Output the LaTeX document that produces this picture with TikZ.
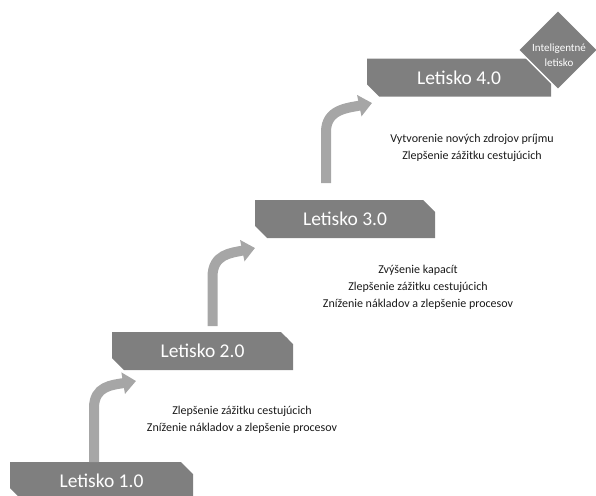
\documentclass[tikz,border=0pt]{standalone}
\usepackage{fontspec}
\setmainfont{Carlito}
\usetikzlibrary{shapes.misc,shapes.geometric,arrows.meta}
\definecolor{boxgray}{HTML}{7F7F7F}
\definecolor{arrowgray}{HTML}{A6A6A6}
\definecolor{txt}{HTML}{1A1A1A}
\tikzset{
  stepbox/.style={chamfered rectangle, chamfered rectangle corners={north east,south west},
    chamfered rectangle xsep=6pt, chamfered rectangle ysep=6pt,
    fill=boxgray, draw=none, inner sep=0pt, minimum height=38pt,
    text=white, font=\fontsize{19.5}{22}\selectfont},
  lastbox/.style={stepbox, chamfered rectangle corners={south west}},
  gem/.style={diamond, fill=boxgray, draw=white, line width=1.5pt, inner sep=0pt,
    minimum width=80pt, minimum height=80pt},
  gemtext/.style={text=white, align=center, inner sep=0pt,
    font=\fontsize{11}{15}\selectfont},
  note/.style={align=center, text=txt, font=\fontsize{12}{17}\selectfont, inner sep=0pt},
  uparrow/.style={draw=arrowgray, line width=10pt,
    -{Triangle[width=21pt,length=13pt]}},
}
\begin{document}
\begin{tikzpicture}[x=1pt,y=-1pt]
\useasboundingbox (0,0) rectangle (596,495);
\clip (0,0) rectangle (596,495);

\node[stepbox, minimum width=183pt] (b1) at (101.5,481) {Letisko 1.0};
\node[stepbox, minimum width=181pt] (b2) at (202.5,351) {Letisko 2.0};
\node[stepbox, minimum width=180pt] (b3) at (345,219) {Letisko 3.0};
\node[lastbox, minimum width=184pt] (b4) at (459,77.5) {Letisko 4.0};
\node[gem] (g) at (558,50) {};
\node[gemtext] (gt) at (559,55) {Inteligentné\\letisko};

\node[note] (t4) at (472,148) {Vytvorenie nových zdrojov príjmu\\Zlepšenie zážitku cestujúcich};
\node[note] (t3) at (418,287) {Zvýšenie kapacít\\Zlepšenie zážitku cestujúcich\\Zníženie nákladov a zlepšenie procesov};
\node[note] (t2) at (242,419.5) {Zlepšenie zážitku cestujúcich\\Zníženie nákladov a zlepšenie procesov};

\coordinate (a1s) at (94,462);
\coordinate (a1e) at (136,381);
\coordinate (a2s) at (212.5,326);
\coordinate (a2e) at (255,248);
\coordinate (a3s) at (326,183);
\coordinate (a3e) at (372,103);

\draw[uparrow] (a1s) -- (94,408) .. controls (94,386) and (112,385) .. (a1e);
\draw[uparrow] (a2s) -- (212.5,277) .. controls (212.5,254) and (231,253) .. (a2e);
\draw[uparrow] (a3s) -- (326,132) .. controls (326,109) and (348,108) .. (a3e);
\end{tikzpicture}
\end{document}
